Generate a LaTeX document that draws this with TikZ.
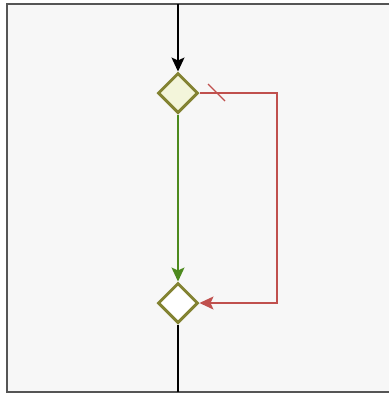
\documentclass[tikz,border=0pt]{standalone}
\usetikzlibrary{shapes.geometric,arrows.meta}
\definecolor{lanebg}{HTML}{F7F7F7}
\definecolor{laneline}{HTML}{555555}
\definecolor{decborder}{HTML}{838332}
\definecolor{decfill}{HTML}{F3F5DA}
\definecolor{yesgreen}{HTML}{4D8A1E}
\definecolor{loopred}{HTML}{C0504D}
\tikzset{
  decision/.style={diamond, draw=decborder, line width=3pt, minimum width=40pt, minimum height=40pt, inner sep=0pt},
  flow/.style={-{Stealth[length=14pt,width=13pt,inset=3pt]}, line width=1.3pt}
}
\begin{document}
\begin{tikzpicture}[x=1pt, y=-1pt]
\useasboundingbox (0,0) rectangle (389,394);
\fill[lanebg] (7,4) rectangle (389,392);
\draw[laneline, line width=1.5pt] (389,4) -- (7,4) -- (7,392) -- (389,392);

\coordinate (start) at (178,4);
\coordinate (end) at (178,392);
\node[decision, fill=decfill] (Check) at (178,93) {};
\node[decision, fill=white] (Merge) at (178,303) {};
\coordinate (LoopTop) at (277,93);
\coordinate (LoopBottom) at (277,303);

\draw[flow, color=black] (start) -- (Check);
\draw[flow, color=yesgreen] (Check) -- (Merge);
\draw[flow, color=loopred] (Check.east) -- (LoopTop) -- (LoopBottom) -- (Merge.east);
\draw[color=loopred, line width=1.3pt] (208,84) -- (225,101);
\draw[color=black, line width=1.3pt] (Merge) -- (end);

\end{tikzpicture}
\end{document}
